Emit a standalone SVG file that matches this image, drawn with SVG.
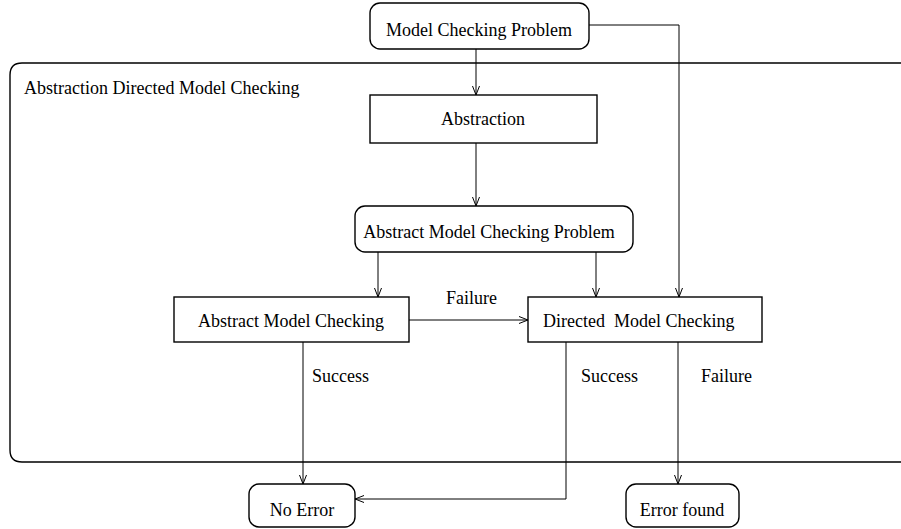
<svg xmlns="http://www.w3.org/2000/svg" width="901" height="529" viewBox="0 0 901 529">
<style>
text{font-family:"Liberation Serif","Times New Roman",serif;font-size:18px;fill:#000;white-space:pre}
.n{fill:#fff;stroke:#000;stroke-width:1.4}
.c{fill:none;stroke:#000;stroke-width:1}
</style>
<defs>
<marker id="a" markerWidth="10" markerHeight="8" refX="9" refY="4" orient="auto" markerUnits="userSpaceOnUse">
<path d="M0,0.5 L9,4 L0,7.5" fill="none" stroke="#000" stroke-width="1"/>
</marker>
</defs>
<g id="outer">
<path class="n" d="M910,63 H22 Q10,63 10,75 V450 Q10,462 22,462 H910" fill="none"/>
<text x="24" y="94">Abstraction Directed Model Checking</text>
</g>
<g id="connectors">
<path class="c" d="M476,49 V95" marker-end="url(#a)"/>
<path class="c" d="M589,25 H679 V297" marker-end="url(#a)"/>
<path class="c" d="M476,143 V206" marker-end="url(#a)"/>
<path class="c" d="M378,252 V297" marker-end="url(#a)"/>
<path class="c" d="M596,252 V297" marker-end="url(#a)"/>
<path class="c" d="M409,320 H528" marker-end="url(#a)"/>
<path class="c" d="M303,342 V484" marker-end="url(#a)"/>
<path class="c" d="M566,342 V499 H355" marker-end="url(#a)"/>
<path class="c" d="M678,342 V484" marker-end="url(#a)"/>
<text x="446" y="304">Failure</text>
<text x="312" y="382">Success</text>
<text x="581" y="382">Success</text>
<text x="701" y="382">Failure</text>
</g>
<g id="mcp">
<rect class="n" x="370" y="3" width="219" height="46" rx="10"/>
<text x="479" y="36" text-anchor="middle">Model Checking Problem</text>
</g>
<g id="abstraction">
<rect class="n" x="370" y="95" width="227" height="48"/>
<text x="483" y="125" text-anchor="middle">Abstraction</text>
</g>
<g id="amcp">
<rect class="n" x="355" y="206" width="278" height="46" rx="10"/>
<text x="489" y="238" text-anchor="middle">Abstract Model Checking Problem</text>
</g>
<g id="amc">
<rect class="n" x="174" y="297" width="235" height="45"/>
<text x="291" y="327" text-anchor="middle">Abstract Model Checking</text>
</g>
<g id="dmc">
<rect class="n" x="528" y="297" width="234" height="45"/>
<text x="543" y="327">Directed  Model Checking</text>
</g>
<g id="noerror">
<rect class="n" x="249" y="484" width="106" height="43" rx="10"/>
<text x="302" y="516" text-anchor="middle">No Error</text>
</g>
<g id="errorfound">
<rect class="n" x="626" y="484" width="113" height="43" rx="10"/>
<text x="682" y="516" text-anchor="middle">Error found</text>
</g>
</svg>
